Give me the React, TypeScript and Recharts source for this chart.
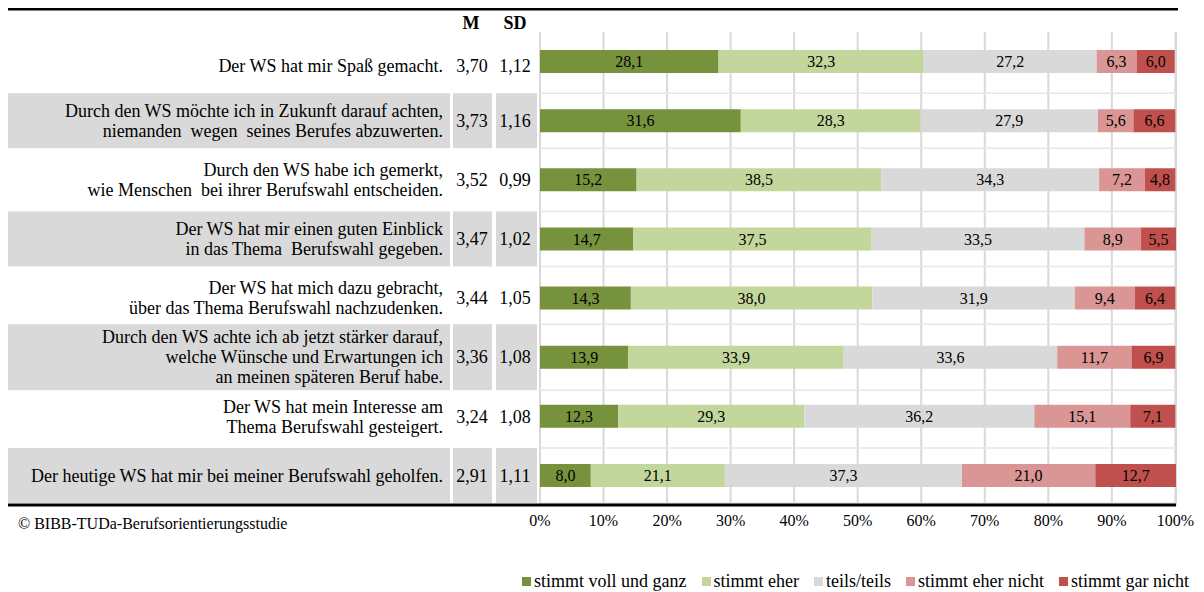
import React from 'react';
import { BarChart, Bar, XAxis, YAxis, CartesianGrid, Legend, LabelList } from 'recharts';

const items = [
  ['Der WS hat mir Spaß gemacht.'],
  ['Durch den WS möchte ich in Zukunft darauf achten,', 'niemanden  wegen  seines Berufes abzuwerten.'],
  ['Durch den WS habe ich gemerkt,', 'wie Menschen  bei ihrer Berufswahl entscheiden.'],
  ['Der WS hat mir einen guten Einblick', 'in das Thema  Berufswahl gegeben.'],
  ['Der WS hat mich dazu gebracht,', 'über das Thema Berufswahl nachzudenken.'],
  ['Durch den WS achte ich ab jetzt stärker darauf,', 'welche Wünsche und Erwartungen ich', 'an meinen späteren Beruf habe.'],
  ['Der WS hat mein Interesse am', 'Thema Berufswahl gesteigert.'],
  ['Der heutige WS hat mir bei meiner Berufswahl geholfen.'],
];
const meanValues = [3.7, 3.73, 3.52, 3.47, 3.44, 3.36, 3.24, 2.91];
const sdValues = [1.12, 1.16, 0.99, 1.02, 1.05, 1.08, 1.08, 1.11];

const stimmtVoll = [28.1, 31.6, 15.2, 14.7, 14.3, 13.9, 12.3, 8.0];
const stimmtEher = [32.3, 28.3, 38.5, 37.5, 38.0, 33.9, 29.3, 21.1];
const teilsTeils = [27.2, 27.9, 34.3, 33.5, 31.9, 33.6, 36.2, 37.3];
const eherNicht = [6.3, 5.6, 7.2, 8.9, 9.4, 11.7, 15.1, 21.0];
const garNicht = [6.0, 6.6, 4.8, 5.5, 6.4, 6.9, 7.1, 12.7];

const xTicks = [0, 10, 20, 30, 40, 50, 60, 70, 80, 90, 100];

const series = [
  { key: 'voll', name: 'stimmt voll und ganz', color: '#76923c' },
  { key: 'eher', name: 'stimmt eher', color: '#c3d69b' },
  { key: 'teils', name: 'teils/teils', color: '#d9d9d9' },
  { key: 'eherNicht', name: 'stimmt eher nicht', color: '#d99694' },
  { key: 'garNicht', name: 'stimmt gar nicht', color: '#c0504d' },
];

const data = items.map((_, i) => ({
  item: String(i),
  voll: stimmtVoll[i],
  eher: stimmtEher[i],
  teils: teilsTeils[i],
  eherNicht: eherNicht[i],
  garNicht: garNicht[i],
}));

const FONT = '"Liberation Serif", "Times New Roman", serif';
const comma = (v: number, d: number) => v.toFixed(d).replace('.', ',');

const RowTick = (props: any) => {
  const { y: tickY, payload } = props;
  const i = payload.index;
  const lines = items[i];
  const grey = i % 2 === 1;
  const h = lines.length === 3 ? 66 : 55;
  const top = tickY - h / 2;
  // first row's text sits a little lower than its bar
  const y = i === 0 ? tickY + 4 : tickY;
  return (
    <g>
      {i === 0 && (
        <g>
          <line x1={0} x2={1170} y1={1} y2={1} stroke="#000" strokeWidth={3} />
          <text x={463} y={15} textAnchor="middle" dy="0.35em" fontFamily={FONT} fontSize={18} fontWeight="bold" fill="#000">M</text>
          <text x={507} y={15} textAnchor="middle" dy="0.35em" fontFamily={FONT} fontSize={18} fontWeight="bold" fill="#000">SD</text>
        </g>
      )}
      {grey && (
        <g>
          <rect x={0} y={top} width={442} height={h} fill="#d9d9d9" />
          <rect x={445} y={top} width={39} height={h} fill="#d9d9d9" />
          <rect x={488} y={top} width={41} height={h} fill="#d9d9d9" />
          <line x1={532} x2={1168} y1={top} y2={top} stroke="#e6e6e6" strokeWidth={1.5} />
          <line x1={532} x2={1168} y1={top + h} y2={top + h} stroke="#e6e6e6" strokeWidth={1.5} />
        </g>
      )}
      {lines.map((ln, k) => (
        <text
          key={k}
          x={435}
          y={y + (k - (lines.length - 1) / 2) * 20}
          dy="0.35em"
          textAnchor="end"
          fontFamily={FONT}
          fontSize={18}
          fill="#000"
          style={{ whiteSpace: 'pre' }}
        >
          {ln}
        </text>
      ))}
      <text x={464} y={y} dy="0.35em" textAnchor="middle" fontFamily={FONT} fontSize={18} fill="#000">
        {comma(meanValues[i], 2)}
      </text>
      <text x={507} y={y} dy="0.35em" textAnchor="middle" fontFamily={FONT} fontSize={18} fill="#000">
        {comma(sdValues[i], 2)}
      </text>
      {i === items.length - 1 && (
        <g>
          <line x1={0} x2={1168} y1={tickY + 29.5} y2={tickY + 29.5} stroke="#000" strokeWidth={3} />
          <text x={10} y={515} dy="0.35em" fontFamily={FONT} fontSize={16} fill="#000">
            © BIBB-TUDa-Berufsorientierungsstudie
          </text>
        </g>
      )}
    </g>
  );
};

const LegendContent = () => (
  <div
    style={{
      height: 57,
      boxSizing: 'border-box',
      paddingTop: 35,
      display: 'flex',
      gap: 15,
      fontFamily: FONT,
      fontSize: 18,
      lineHeight: '20px',
      color: '#000',
      whiteSpace: 'nowrap',
    }}
  >
    {series.map((s) => (
      <div key={s.key} style={{ display: 'flex', alignItems: 'center' }}>
        <span style={{ width: 9, height: 9, background: s.color, marginRight: 3, display: 'inline-block' }} />
        {s.name}
      </div>
    ))}
  </div>
);

export default function App() {
  return (
    <div style={{ width: 1188, height: 584 }}>
      <BarChart
        width={1188}
        height={584}
        data={data}
        layout="vertical"
        barSize={23}
        margin={{ top: 24, right: 20, bottom: 0, left: 0 }}
      >
        <CartesianGrid horizontal={false} stroke="#d9d9d9" strokeWidth={2} />
        <XAxis
          type="number"
          domain={[0, 100]}
          ticks={xTicks}
          tickFormatter={(v) => `${v}%`}
          axisLine={false}
          tickLine={false}
          tickSize={0}
          tickMargin={10}
          height={30}
          tick={{ fontFamily: FONT, fontSize: 16, fill: '#000' }}
        />
        <YAxis
          type="category"
          dataKey="item"
          width={532}
          axisLine={false}
          tickLine={false}
          interval={0}
          tick={<RowTick />}
        />
        <Legend
          verticalAlign="bottom"
          content={<LegendContent />}
          wrapperStyle={{ left: 514, width: 680, bottom: 0 }}
        />
        {series.map((s) => (
          <Bar key={s.key} dataKey={s.key} name={s.name} stackId="a" fill={s.color} isAnimationActive={false}>
            <LabelList
              dataKey={s.key}
              position="center"
              formatter={(v: any) => comma(Number(v), 1)}
              style={{ fontFamily: FONT, fontSize: 16, fill: '#000' }}
            />
          </Bar>
        ))}
      </BarChart>
    </div>
  );
}
